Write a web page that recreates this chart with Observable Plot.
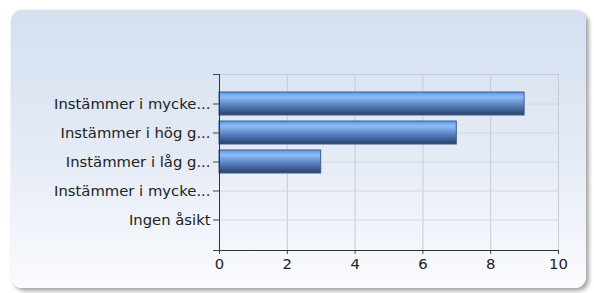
<!DOCTYPE html>
<html>
<head>
<meta charset="utf-8">
<script src="https://cdn.jsdelivr.net/npm/d3@7"></script>
<script src="https://cdn.jsdelivr.net/npm/@observablehq/plot@0.6"></script>
<style>
  html, body { margin: 0; padding: 0; background: #ffffff; }
  #wrap { position: relative; width: 594px; height: 293px; overflow: hidden; }
  #panel {
    position: absolute; left: 11px; top: 10px; width: 575px; height: 278px;
    border-radius: 11px;
    background: linear-gradient(to bottom, #d4dff0 0%, #e6ecf6 55%, #fafbfe 100%);
    box-shadow: 3px 3px 4px rgba(0,0,0,0.35), 0 0 3px rgba(0,0,0,0.08);
  }
  #chart { position: absolute; left: 0; top: 0; }
  #chart svg text { font-size: 14.8px; }
</style>
</head>
<body>
<div id="wrap"><div id="panel"></div><div id="chart"></div></div>
<script>
const categories = [
  "Instämmer i mycket hög grad",
  "Instämmer i hög grad",
  "Instämmer i låg grad",
  "Instämmer i mycket låg grad",
  "Ingen åsikt"
];
const values = [9, 7, 3, 0, 0];
const xTicks = [0, 2, 4, 6, 8, 10];

const data = categories.map((c, i) => ({cat: c, value: values[i]}));
const truncate = s => s.length > 17 ? s.slice(0, 17) + "..." : s;

const defs = () => {
  const g = d3.create("svg:defs");
  const lg = g.append("linearGradient").attr("id", "barGrad")
    .attr("x1", 0).attr("y1", 0).attr("x2", 0).attr("y2", 1);
  [[0, "#5e94e6"], [0.22, "#8dbdf7"], [0.55, "#5b86c4"], [1, "#27406a"]]
    .forEach(([o, c]) => lg.append("stop").attr("offset", o).attr("stop-color", c));
  return g.node();
};

const edgeTicks = (index, scales, values, dims) => {
  const g = d3.create("svg:g").attr("stroke", "#444");
  const x = dims.marginLeft;
  [dims.marginTop, dims.height - dims.marginBottom].forEach(y =>
    g.append("line").attr("x1", x - 6).attr("x2", x).attr("y1", y + 0.5).attr("y2", y + 0.5));
  return g.node();
};

const chart = Plot.plot({
  width: 594, height: 293,
  marginLeft: 219, marginRight: 36, marginTop: 74, marginBottom: 43,
  style: {background: "transparent", fontFamily: "'DejaVu Sans', Verdana, sans-serif", fontSize: "14.8px", color: "#222"},
  x: {domain: [0, 10], label: null},
  y: {domain: categories, paddingInner: 0.2, paddingOuter: 0.1, insetTop: 15.5, insetBottom: 15.5, label: null},
  marks: [
    defs,
    Plot.gridX(xTicks, {stroke: "#c6cbd4", strokeOpacity: 1}),
    Plot.gridY({stroke: "#d2d6de", strokeOpacity: 1}),
    Plot.frame({anchor: "top", stroke: "#c6cbd4"}),
    Plot.barX(data.filter(d => d.value > 0), {x: "value", y: "cat", fill: "url(#barGrad)", stroke: "#3b5b8c", strokeWidth: 1}),
    Plot.axisX(xTicks, {tickSize: 4, tickPadding: 4, stroke: "#444", fill: "#222", label: null}),
    Plot.axisY({tickSize: 6, tickPadding: 3, stroke: "#444", fill: "#222", tickFormat: truncate, label: null}),
    Plot.frame({anchor: "left", stroke: "#333"}),
    Plot.frame({anchor: "bottom", stroke: "#333"}),
    edgeTicks
  ]
});
document.getElementById("chart").appendChild(chart);
</script>
</body>
</html>
